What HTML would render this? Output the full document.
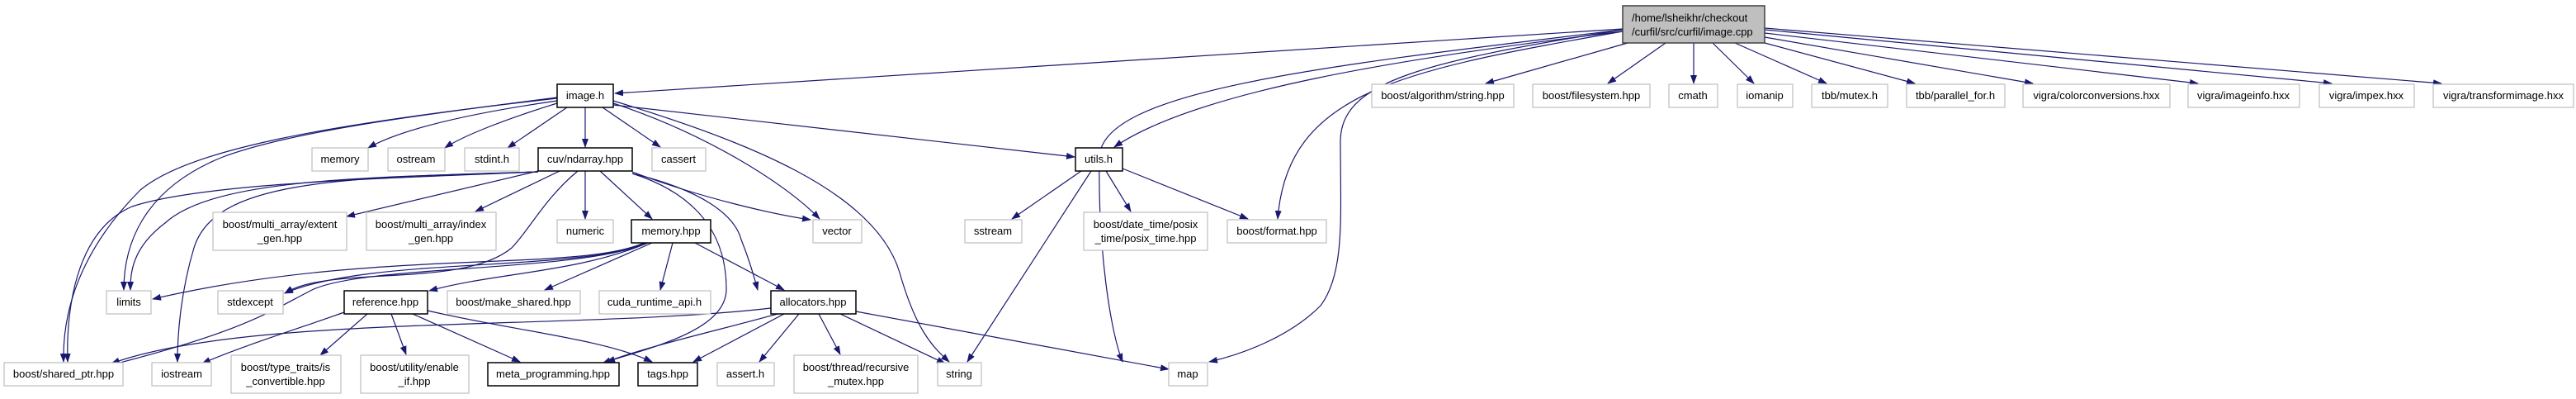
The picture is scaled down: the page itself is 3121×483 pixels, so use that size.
<!DOCTYPE html>
<html><head><meta charset="utf-8"><style>
html,body{margin:0;padding:0;background:#fff;}
svg{display:block}
text{font-family:"Liberation Sans",sans-serif;font-size:13px;fill:#000;text-anchor:middle}
.e{fill:none;stroke:#191970;stroke-width:1.2}
.n{fill:#fff;stroke:#bfbfbf;stroke-width:1.2}
.d{fill:#fff;stroke:#000;stroke-width:1.5}
</style></head><body>
<svg width="3121" height="483" viewBox="0 0 3121 483" xmlns="http://www.w3.org/2000/svg">
<defs><marker id="a" markerWidth="11" markerHeight="8" refX="10" refY="4" orient="auto" markerUnits="userSpaceOnUse"><path d="M0,0 L11,4 L0,8 z" fill="#191970"/></marker></defs>
<g class="e" marker-end="url(#a)">
<!-- root edges -->
<path d="M1966,35 L745,113"/>
<path d="M1966,38 C1700,70 1450,110 1350,178"/>
<path d="M1966,36 C1600,80 1335,110 1332,190 C1330,300 1345,400 1360,438"/>
<path d="M1966,38 C1700,85 1560,110 1548,265"/>
<path d="M1966,36 C1720,75 1625,100 1624,170 C1624,260 1630,330 1600,370 C1560,410 1500,430 1465,438"/>
<path d="M1972,52 L1800,101"/>
<path d="M2018,52 L1948,101"/>
<path d="M2052,52 L2052,101"/>
<path d="M2075,52 L2125,101"/>
<path d="M2102,52 L2213,101"/>
<path d="M2138,52 L2320,101"/>
<path d="M2138,45 L2463,101"/>
<path d="M2138,40 L2663,101"/>
<path d="M2138,36 L2825,101"/>
<path d="M2138,34 L2958,101"/>
<!-- image.h -->
<path d="M675,122 C550,140 480,160 446,179"/>
<path d="M675,125 C610,145 560,165 539,179"/>
<path d="M687,130 L615,179"/>
<path d="M709,130 L709,178"/>
<path d="M730,130 L800,178"/>
<path d="M743,125 C850,160 950,220 993,265"/>
<path d="M743,122 C900,170 1060,230 1090,330 C1110,400 1130,420 1150,438"/>
<path d="M743,127 L1302,190"/>
<path d="M675,118 C500,140 350,160 270,190 C170,230 150,300 150,351"/>
<path d="M675,119 C400,150 230,180 170,230 C120,280 75,350 77,438"/>
<!-- cuv/ndarray -->
<path d="M652,207 L420,262"/>
<path d="M678,207 L576,256"/>
<path d="M709,207 L709,265"/>
<path d="M727,207 L790,265"/>
<path d="M766,208 C850,240 940,260 982,266"/>
<path d="M766,210 C850,230 890,260 898,290 C910,320 915,340 918,351"/>
<path d="M766,210 C860,240 880,300 880,350 C880,400 790,420 735,438"/>
<path d="M700,207 C660,240 640,280 620,300 C560,350 400,320 345,355"/>
<path d="M652,208 C500,215 250,220 160,250 C90,280 80,380 82,438"/>
<path d="M652,208 C450,215 260,215 200,270 C160,300 158,330 158,351"/>
<path d="M652,208 C400,215 260,220 235,300 C220,350 215,400 215,438"/>
<!-- memory.hpp -->
<path d="M780,294 C700,330 450,300 185,362"/>
<path d="M782,294 C700,330 450,310 345,355"/>
<path d="M785,294 C700,330 600,330 520,352"/>
<path d="M790,294 L660,351"/>
<path d="M815,294 L800,351"/>
<path d="M842,294 L950,351"/>
<path d="M785,294 C700,330 450,320 380,350 C330,375 300,400 130,443"/>
<!-- reference.hpp -->
<path d="M417,378 C370,395 290,420 245,440"/>
<path d="M445,380 L388,430"/>
<path d="M474,380 L492,429"/>
<path d="M500,380 L630,438"/>
<path d="M518,376 C620,400 730,410 790,438"/>
<!-- allocators -->
<path d="M934,373 C700,400 300,380 135,440"/>
<path d="M942,380 C870,400 780,420 730,440"/>
<path d="M950,380 L840,438"/>
<path d="M968,380 L920,438"/>
<path d="M992,380 L1018,429"/>
<path d="M1018,380 L1145,440"/>
<path d="M1037,377 L1416,447"/>
<!-- utils.h -->
<path d="M1310,207 L1226,265"/>
<path d="M1340,207 L1370,256"/>
<path d="M1360,204 L1512,265"/>
<path d="M1322,207 L1172,438"/>
</g>
<!-- nodes -->
<rect x="1966" y="7" width="172" height="45" fill="#bfbfbf" stroke="#404040" stroke-width="1.5"/>
<text x="2052" y="26" style="text-anchor:start" transform="translate(-75,0)">/home/lsheikhr/checkout</text>
<text x="2052" y="43" style="text-anchor:start" transform="translate(-75,0)">/curfil/src/curfil/image.cpp</text>
<g>
<rect class="d" x="675" y="102" width="68" height="28"/><text x="709" y="120">image.h</text>
<rect class="n" x="1662" y="102" width="172" height="28"/><text x="1748" y="120">boost/algorithm/string.hpp</text>
<rect class="n" x="1857" y="102" width="142" height="28"/><text x="1928" y="120">boost/filesystem.hpp</text>
<rect class="n" x="2022" y="102" width="59" height="28"/><text x="2051" y="120">cmath</text>
<rect class="n" x="2105" y="102" width="67" height="28"/><text x="2138" y="120">iomanip</text>
<rect class="n" x="2195" y="102" width="92" height="28"/><text x="2241" y="120">tbb/mutex.h</text>
<rect class="n" x="2310" y="102" width="119" height="28"/><text x="2369" y="120">tbb/parallel_for.h</text>
<rect class="n" x="2451" y="102" width="178" height="28"/><text x="2540" y="120">vigra/colorconversions.hxx</text>
<rect class="n" x="2651" y="102" width="135" height="28"/><text x="2718" y="120">vigra/imageinfo.hxx</text>
<rect class="n" x="2810" y="102" width="115" height="28"/><text x="2867" y="120">vigra/impex.hxx</text>
<rect class="n" x="2948" y="102" width="170" height="28"/><text x="3033" y="120">vigra/transformimage.hxx</text>

<rect class="n" x="378" y="179" width="68" height="28"/><text x="412" y="197">memory</text>
<rect class="n" x="470" y="179" width="69" height="28"/><text x="504" y="197">ostream</text>
<rect class="n" x="563" y="179" width="66" height="28"/><text x="596" y="197">stdint.h</text>
<rect class="d" x="652" y="179" width="114" height="28"/><text x="709" y="197">cuv/ndarray.hpp</text>
<rect class="n" x="790" y="179" width="65" height="28"/><text x="822" y="197">cassert</text>
<rect class="d" x="1303" y="179" width="57" height="28"/><text x="1331" y="197">utils.h</text>

<rect class="n" x="258" y="257" width="162" height="46"/><text x="339" y="276">boost/multi_array/extent</text><text x="339" y="293">_gen.hpp</text>
<rect class="n" x="444" y="257" width="157" height="46"/><text x="522" y="276">boost/multi_array/index</text><text x="522" y="293">_gen.hpp</text>
<rect class="n" x="675" y="266" width="68" height="28"/><text x="709" y="284">numeric</text>
<rect class="d" x="765" y="266" width="96" height="28"/><text x="813" y="284">memory.hpp</text>
<rect class="n" x="985" y="266" width="59" height="28"/><text x="1014" y="284">vector</text>
<rect class="n" x="1169" y="266" width="69" height="28"/><text x="1203" y="284">sstream</text>
<rect class="n" x="1313" y="257" width="150" height="46"/><text x="1388" y="276">boost/date_time/posix</text><text x="1388" y="293">_time/posix_time.hpp</text>
<rect class="n" x="1487" y="266" width="120" height="28"/><text x="1547" y="284">boost/format.hpp</text>

<rect class="n" x="129" y="352" width="54" height="28"/><text x="156" y="370">limits</text>
<rect class="n" x="264" y="352" width="79" height="28"/><text x="303" y="370">stdexcept</text>
<rect class="d" x="417" y="352" width="101" height="28"/><text x="467" y="370">reference.hpp</text>
<rect class="n" x="542" y="352" width="161" height="28"/><text x="622" y="370">boost/make_shared.hpp</text>
<rect class="n" x="726" y="352" width="135" height="28"/><text x="793" y="370">cuda_runtime_api.h</text>
<rect class="d" x="934" y="352" width="103" height="28"/><text x="985" y="370">allocators.hpp</text>

<rect class="n" x="5" y="439" width="144" height="28"/><text x="77" y="457">boost/shared_ptr.hpp</text>
<rect class="n" x="184" y="439" width="72" height="28"/><text x="220" y="457">iostream</text>
<rect class="n" x="280" y="430" width="133" height="46"/><text x="346" y="449">boost/type_traits/is</text><text x="346" y="466">_convertible.hpp</text>
<rect class="n" x="437" y="430" width="131" height="46"/><text x="502" y="449">boost/utility/enable</text><text x="502" y="466">_if.hpp</text>
<rect class="d" x="591" y="439" width="159" height="28"/><text x="670" y="457">meta_programming.hpp</text>
<rect class="d" x="773" y="439" width="72" height="28"/><text x="809" y="457">tags.hpp</text>
<rect class="n" x="869" y="439" width="69" height="28"/><text x="903" y="457">assert.h</text>
<rect class="n" x="962" y="430" width="150" height="46"/><text x="1037" y="449">boost/thread/recursive</text><text x="1037" y="466">_mutex.hpp</text>
<rect class="n" x="1136" y="439" width="53" height="28"/><text x="1162" y="457">string</text>
<rect class="n" x="1416" y="439" width="47" height="28"/><text x="1439" y="457">map</text>
</g>
</svg>
</body></html>
